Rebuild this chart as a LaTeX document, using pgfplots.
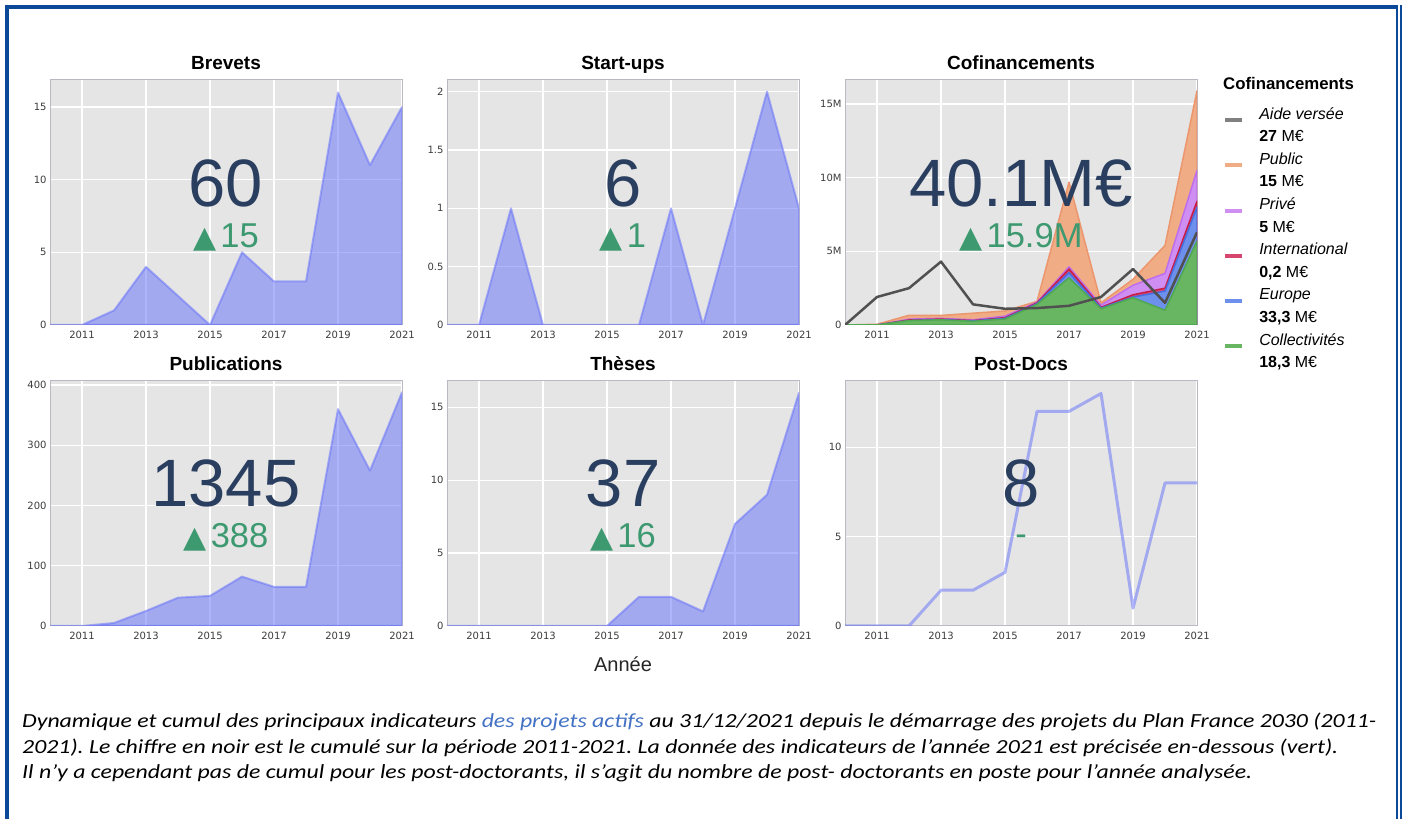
\documentclass[border=0pt]{standalone}
\usepackage{fontspec}
\setmainfont{Liberation Sans}
\newfontfamily\dejavu{DejaVu Sans}
\newfontfamily\carlito{Carlito}
\usepackage{pgfplots}
\pgfplotsset{compat=1.18}
\usepackage{pgfplotstable}

\definecolor{plotbg}{RGB}{229,229,229}
\definecolor{framegray}{RGB}{185,185,195}
\definecolor{tickgray}{RGB}{60,60,60}
\definecolor{navy}{RGB}{42,63,95}
\definecolor{upgreen}{RGB}{61,153,112}
\definecolor{plotlyblue}{RGB}{99,110,250}
\definecolor{borderblue}{RGB}{12,72,152}
\definecolor{linkblue}{RGB}{68,114,196}
% cofinancement bands
\definecolor{cpublic}{RGB}{240,172,132}
\definecolor{cpublicl}{RGB}{236,150,110}
\definecolor{cprive}{RGB}{206,142,242}
\definecolor{cprivel}{RGB}{190,110,235}
\definecolor{cintl}{RGB}{214,70,110}
\definecolor{cintll}{RGB}{200,30,70}
\definecolor{ceurope}{RGB}{108,144,236}
\definecolor{ceuropel}{RGB}{70,110,225}
\definecolor{ccoll}{RGB}{104,182,98}
\definecolor{ccolll}{RGB}{80,168,80}
\definecolor{caide}{RGB}{80,80,80}

% yearly indicators
\pgfplotstableread{
year brevets startups publications theses postdocs
2010 0  0 0   0  0
2011 0  0 0   0  0
2012 1  1 5   0  0
2013 4  0 25  0  2
2014 2  0 47  0  2
2015 0  0 50  0  3
2016 5  0 82  2  12
2017 3  1 65  2  12
2018 3  0 65  1  13
2019 16 1 360 7  1
2020 11 2 258 9  8
2021 15 1 388 16 8
}\indic

% cofinancements, cumulated stack (M EUR), aide = separate line
\pgfplotstableread{
year aide coll europe intl prive public
2010 0    0    0    0    0    0
2011 1.9  0    0    0    0    0.05
2012 2.5  0.3  0.3  0.34 0.4  0.66
2013 4.3  0.35 0.36 0.4  0.45 0.65
2014 1.4  0.25 0.28 0.3  0.35 0.8
2015 1.1  0.4  0.45 0.5  0.6  0.95
2016 1.15 1.4  1.45 1.5  1.55 1.6
2017 1.3  3.2  3.55 3.8  3.95 9.7
2018 1.9  1.1  1.15 1.2  1.35 1.5
2019 3.8  1.85 1.9  2.05 2.7  3.1
2020 1.5  1.0  2.3  2.5  3.5  5.4
2021 6.3  5.7  8.0  8.4  10.5 15.9
}\cofin

\pgfplotsset{
  panel/.style={
    scale only axis, width=352bp, height=245bp,
    anchor=south west,
    xmin=2010, xmax=2021, ymin=0,
    xtick={2011,2013,...,2021},
    grid=major, major grid style={white, line width=1.3bp},
    axis background/.style={fill=plotbg},
    axis line style={framegray, line width=1bp},
    tick style={draw=none},
    tick label style={font=\dejavu\fontsize{10bp}{12bp}\selectfont, text=tickgray},
    xticklabel style={yshift=-3bp},
    /pgf/number format/assume math mode=true,
    /pgf/number format/set thousands separator={},
    title style={font=\bfseries\fontsize{19bp}{22bp}\selectfont, at={(0.5,1)}, anchor=base, yshift=5bp, inner sep=0},
  },
  area/.style={draw=plotlyblue, fill=plotlyblue, opacity=0.5, line width=2bp, line join=round, mark=none},
  band/.style={fill=#1, draw=#1l, line width=1.5bp, line join=round, mark=none, forget plot},
  swatch/.style={legend image code/.code={\draw[##1, line width=4bp] (0bp,-5bp) -- (17bp,-5bp);}},
}
\tikzset{
  bignum/.style={font=\fontsize{67bp}{75bp}\selectfont, text=navy, anchor=base, inner sep=0},
  delta/.style={font=\fontsize{34.5bp}{36bp}\selectfont, text=upgreen, anchor=base, inner sep=0},
}
\newcommand{\tri}{{\dejavu\fontsize{30bp}{30bp}\selectfont ▲}\hspace{4bp}}

\begin{document}
\begin{tikzpicture}[x=1bp,y=1bp]
\path[use as bounding box, fill=white] (0,0) rectangle (1405,819);

% ---- row 1 ----
\begin{axis}[panel, at={(50bp,494bp)}, ymax=16.86, ytick={0,5,10,15}, title={Brevets}]
\addplot[area] table[x=year,y=brevets]{\indic} \closedcycle;
\node[bignum] at (rel axis cs:0.5,0.482) {60};
\node[delta] at (rel axis cs:0.5,0.318) {\tri 15};
\end{axis}

\begin{axis}[panel, at={(447bp,494bp)}, ymax=2.1, ytick={0,0.5,1,1.5,2}, title={Start-ups}]
\addplot[area] table[x=year,y=startups]{\indic} \closedcycle;
\node[bignum] at (rel axis cs:0.5,0.482) {6};
\node[delta] at (rel axis cs:0.5,0.318) {\tri 1};
\end{axis}

\begin{axis}[panel, at={(845bp,494bp)}, ymax=16.63, ytick={0,5,10,15},
  yticklabels={0,5M,10M,15M}, title={Cofinancements},
  legend style={draw=none, fill=none, at={(1.074,0.89)}, anchor=north west,
    inner sep=0, row sep=6.6bp, column sep=15bp,
    nodes={inner sep=0, text height=12bp, text depth=4bp},
    font=\fontsize{16bp}{20bp}\selectfont},
  legend cell align=left, swatch]
\addplot[band=cpublic] table[x=year,y=public]{\cofin} \closedcycle;
\addplot[band=cprive] table[x=year,y=prive]{\cofin} \closedcycle;
\addplot[band=cintl] table[x=year,y=intl]{\cofin} \closedcycle;
\addplot[band=ceurope] table[x=year,y=europe]{\cofin} \closedcycle;
\addplot[band=ccoll] table[x=year,y=coll]{\cofin} \closedcycle;
\addplot[caide, line width=2.5bp, line join=round, mark=none, forget plot] table[x=year,y=aide]{\cofin};
\node[bignum] at (rel axis cs:0.5,0.482) {40.1M€};
\node[delta] at (rel axis cs:0.5,0.318) {\tri 15.9M};
\addlegendimage{gray}
\addlegendentry{\textit{Aide versée}}
\addlegendimage{empty legend}
\addlegendentry{\textbf{27} M€}
\addlegendimage{cpublic}
\addlegendentry{\textit{Public}}
\addlegendimage{empty legend}
\addlegendentry{\textbf{15} M€}
\addlegendimage{cprive}
\addlegendentry{\textit{Privé}}
\addlegendimage{empty legend}
\addlegendentry{\textbf{5} M€}
\addlegendimage{cintl}
\addlegendentry{\textit{International}}
\addlegendimage{empty legend}
\addlegendentry{\textbf{0,2} M€}
\addlegendimage{ceurope}
\addlegendentry{\textit{Europe}}
\addlegendimage{empty legend}
\addlegendentry{\textbf{33,3} M€}
\addlegendimage{ccoll}
\addlegendentry{\textit{Collectivités}}
\addlegendimage{empty legend}
\addlegendentry{\textbf{18,3} M€}
\end{axis}
% legend title
\node[anchor=base west, inner sep=0, font=\bfseries\fontsize{16.8bp}{18bp}\selectfont]
  at (1223,729) {Cofinancements};

% ---- row 2 ----
\begin{axis}[panel, at={(50bp,193bp)}, ymax=406.7, ytick={0,100,200,300,400}, title={Publications}]
\addplot[area] table[x=year,y=publications]{\indic} \closedcycle;
\node[bignum] at (rel axis cs:0.5,0.486) {1345};
\node[delta] at (rel axis cs:0.5,0.322) {\tri 388};
\end{axis}

\begin{axis}[panel, at={(447bp,193bp)}, ymax=16.8, ytick={0,5,10,15}, title={Thèses}]
\addplot[area] table[x=year,y=theses]{\indic} \closedcycle;
\node[bignum] at (rel axis cs:0.5,0.486) {37};
\node[delta] at (rel axis cs:0.5,0.322) {\tri 16};
\end{axis}

\begin{axis}[panel, at={(845bp,193bp)}, ymax=13.7, ytick={0,5,10}, title={Post-Docs}]
\addplot[draw=plotlyblue, opacity=0.5, line width=3bp, line join=round, mark=none] table[x=year,y=postdocs]{\indic};
\node[bignum] at (rel axis cs:0.5,0.486) {8};
\node[delta] at (rel axis cs:0.5,0.330) {-};
\end{axis}

\node[anchor=base, inner sep=0, font=\fontsize{20bp}{24bp}\selectfont, text=black!85] at (623,147) {Année};

% caption (the source text is stretched horizontally)
\begin{scope}[every node/.style={anchor=base west, inner sep=0, xscale=1.19, transform shape,
    font=\carlito\itshape\frenchspacing\fontsize{20bp}{24bp}\selectfont}]
\node at (22,92) {Dynamique et cumul des principaux indicateurs \textcolor{linkblue}{des projets actifs} au 31/12/2021 depuis le démarrage des projets du Plan France 2030 (2011-};
\node at (22,66) {2021). Le chiffre en noir est le cumulé sur la période 2011-2021. La donnée des indicateurs de l’année 2021 est précisée en-dessous (vert).};
\node at (22,41) {Il n’y a cependant pas de cumul pour les post-doctorants, il s’agit du nombre de post- doctorants en poste pour l’année analysée.};
\end{scope}

% frame
\draw[borderblue, line width=4bp] (5,812) -- (1398,812);
\draw[borderblue, line width=4bp] (7,814) -- (7,0);
\draw[borderblue, line width=2.5bp] (1397,814) -- (1397,0);
\draw[borderblue, line width=2.5bp] (1401,814) -- (1401,0);
\end{tikzpicture}
\end{document}
